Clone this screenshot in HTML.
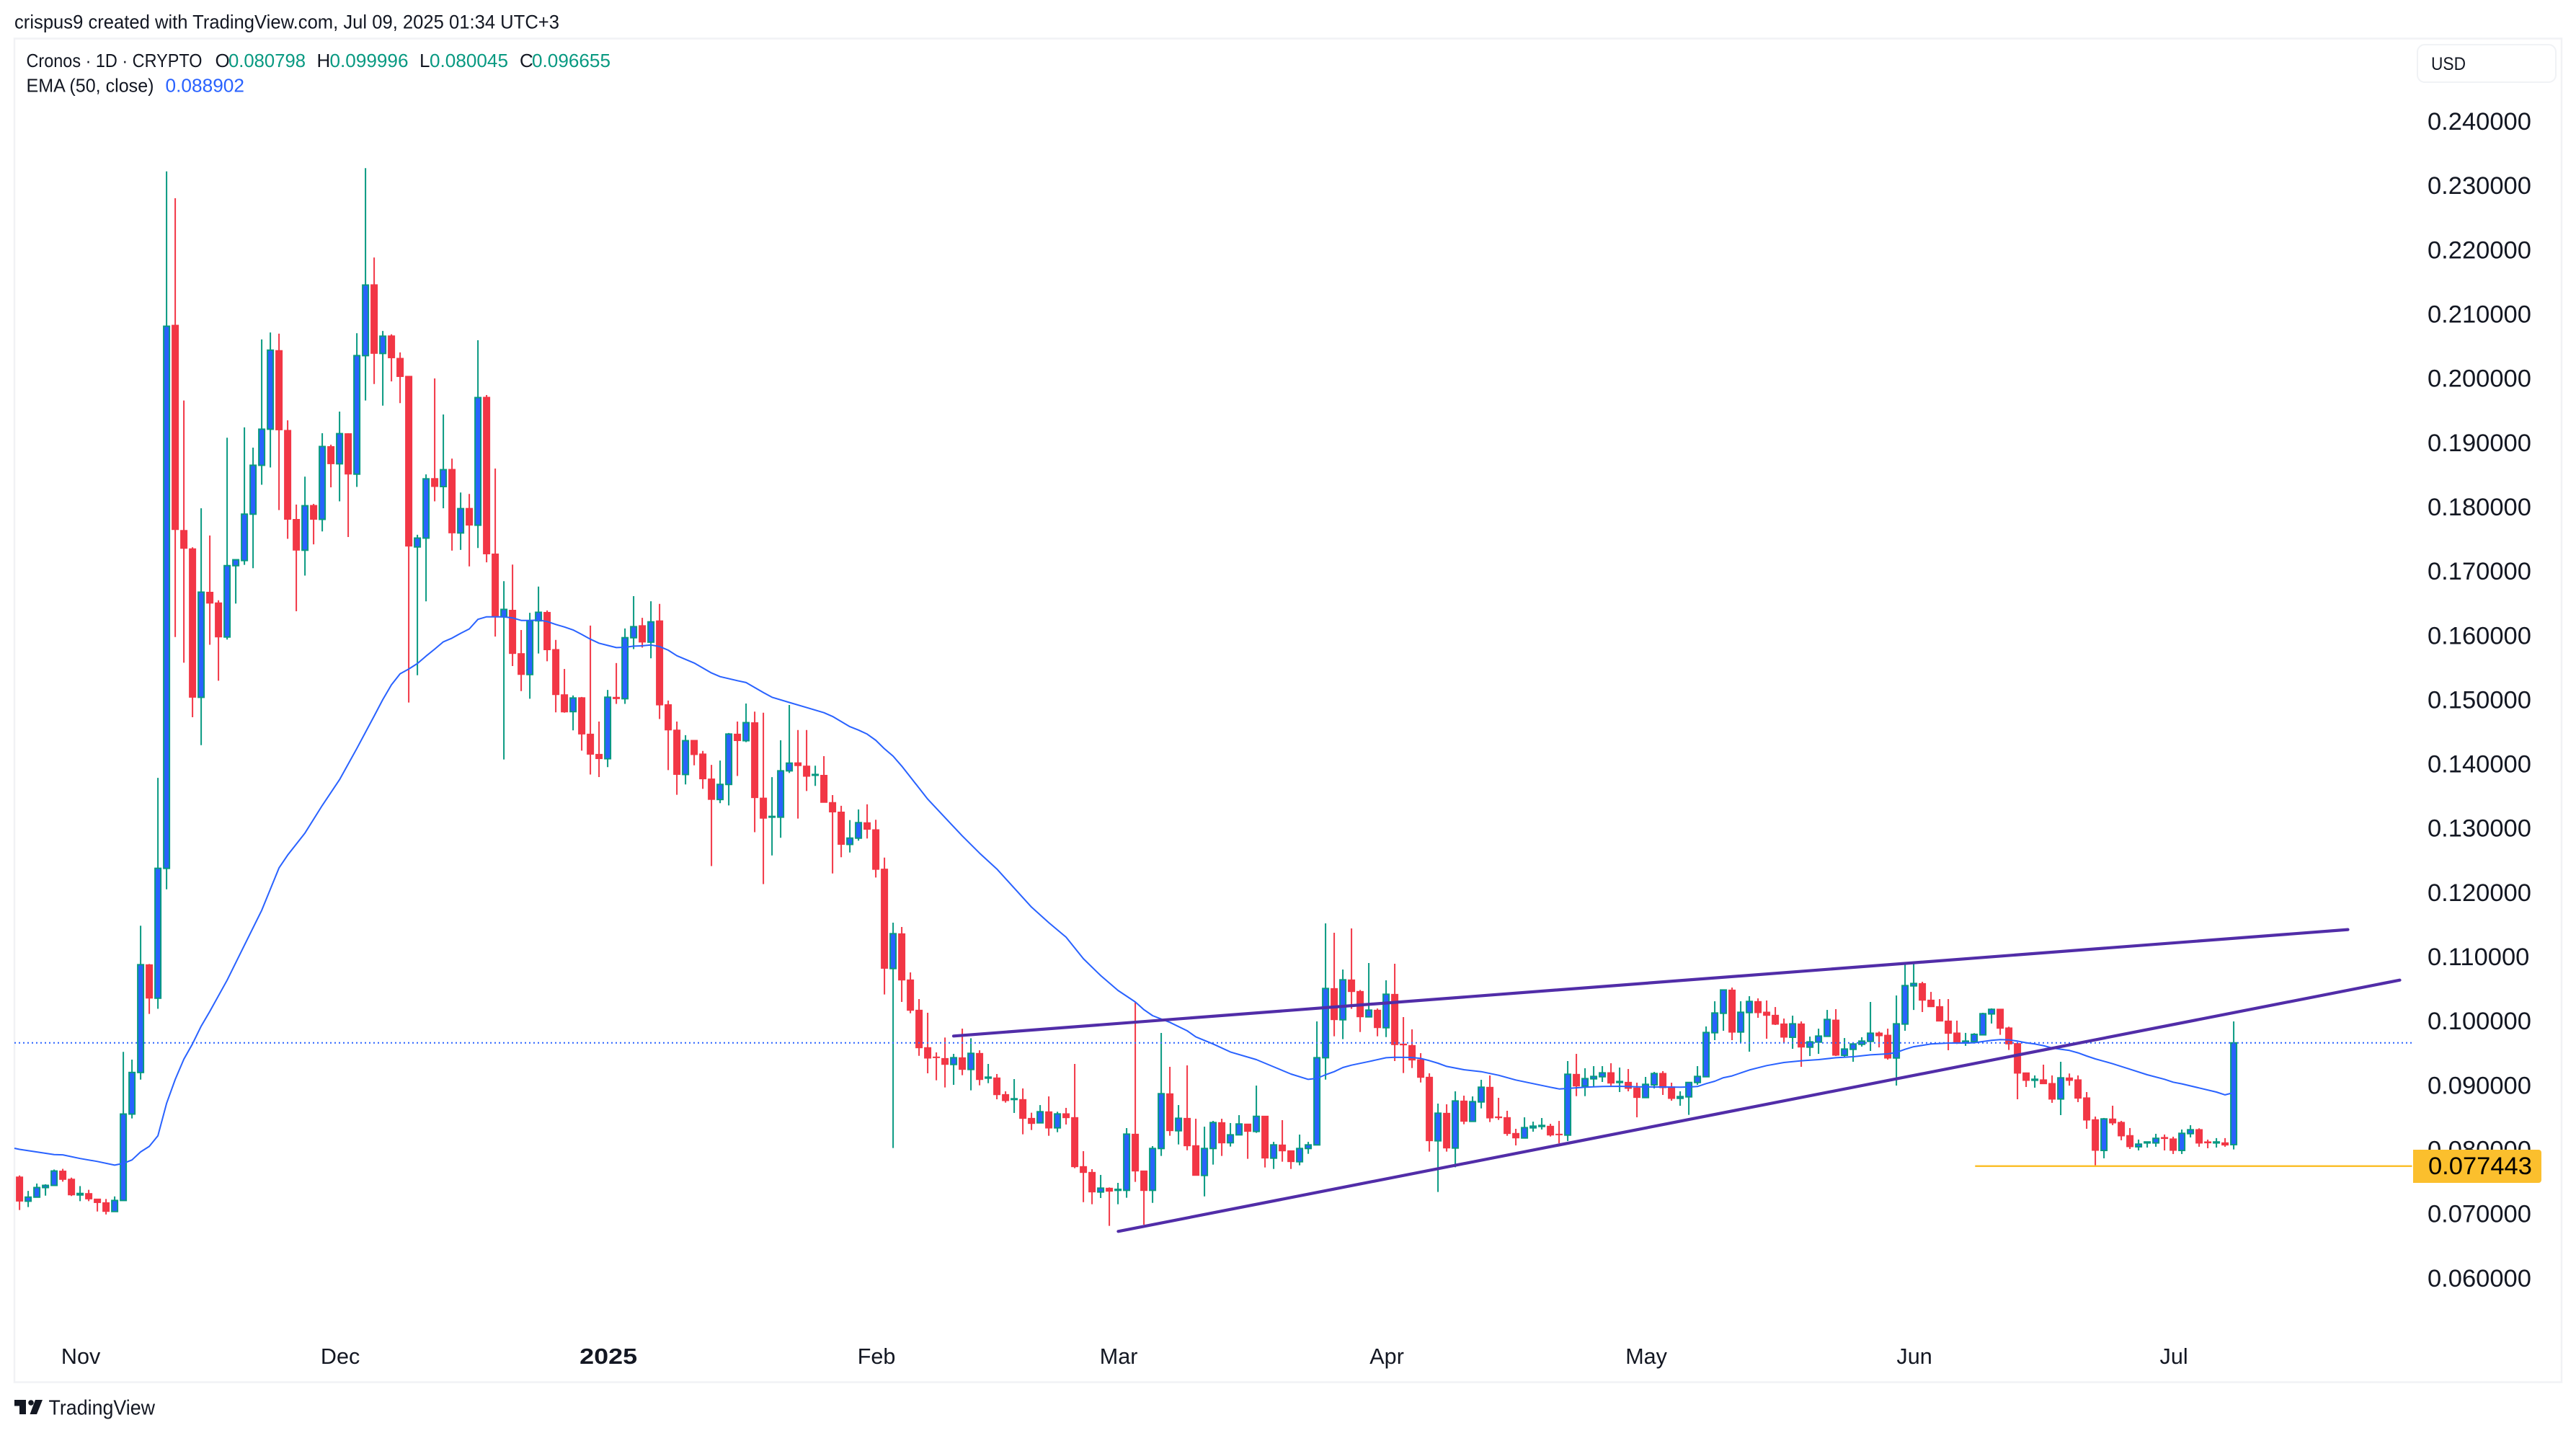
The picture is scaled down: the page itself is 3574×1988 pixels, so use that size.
<!DOCTYPE html>
<html lang="en">
<head>
<meta charset="utf-8">
<title>Cronos 1D chart</title>
<style>
html,body{margin:0;padding:0;background:#fff;width:3574px;height:1988px;overflow:hidden}
svg{display:block}
text{font-family:"Liberation Sans",sans-serif;fill:#131722}
</style>
</head>
<body>
<svg id="chart" xmlns="http://www.w3.org/2000/svg" width="3574" height="1988" viewBox="0 0 3574 1988">
  <rect width="3574" height="1988" fill="#ffffff"/>
  <text x="20" y="39.5" font-size="27" textLength="756" lengthAdjust="spacingAndGlyphs">crispus9 created with TradingView.com, Jul 09, 2025 01:34 UTC+3</text>
  <rect x="20" y="53.5" width="3534" height="1864" fill="none" stroke="#f1f2f5" stroke-width="2.5"/>

  <g id="candles"></g>
  <polyline id="ema-line" fill="none" stroke="#2962ff" stroke-width="2" stroke-linejoin="round"/>
  <line id="last-price-line" stroke="#2962ff" stroke-width="2" stroke-dasharray="2 4"/>
  <line id="trend-upper" stroke="#512da8" stroke-width="4.2" stroke-linecap="round"/>
  <line id="trend-lower" stroke="#512da8" stroke-width="4.2" stroke-linecap="round"/>
  <line id="level-line" stroke="#fbc02d" stroke-width="2.5"/>

  <g id="price-ticks"></g>
  <path d="M3348 1595H3522a4 4 0 0 1 4 4V1637a4 4 0 0 1 -4 4H3348Z" fill="#fbbf2d"/>
  <text id="level-text" x="3369" y="1629" font-size="34.5" style="fill:#000"></text>

  <rect x="3354" y="62" width="192" height="52" rx="10" fill="#fff" stroke="#f0f2f5" stroke-width="2"/>
  <text x="3373" y="97" font-size="25" textLength="48" lengthAdjust="spacingAndGlyphs">USD</text>

  <g id="time-ticks"></g>

  <g font-size="26">
    <text x="36.5" y="93" textLength="244" lengthAdjust="spacingAndGlyphs">Cronos · 1D · CRYPTO</text>
    <text x="298.5" y="93">O</text>
    <text x="317" y="93" textLength="107" lengthAdjust="spacingAndGlyphs" style="fill:#089981">0.080798</text>
    <text x="439.5" y="93">H</text>
    <text x="457.5" y="93" textLength="109" lengthAdjust="spacingAndGlyphs" style="fill:#089981">0.099996</text>
    <text x="582" y="93">L</text>
    <text x="596" y="93" textLength="109" lengthAdjust="spacingAndGlyphs" style="fill:#089981">0.080045</text>
    <text x="721" y="93">C</text>
    <text x="738" y="93" textLength="109" lengthAdjust="spacingAndGlyphs" style="fill:#089981">0.096655</text>
    <text x="36.5" y="127.5" textLength="177" lengthAdjust="spacingAndGlyphs">EMA (50, close)</text>
    <text x="229.5" y="127.5" textLength="109.5" lengthAdjust="spacingAndGlyphs" style="fill:#2962ff">0.088902</text>
  </g>

  <g>
    <path d="M20 1942H36V1962H27V1950.5H20Z" fill="#131722"/>
    <circle cx="43" cy="1946" r="3.8" fill="#131722"/>
    <path d="M49 1942H59L51 1962H41.5Z" fill="#131722"/>
    <text x="67.5" y="1962.5" font-size="29" textLength="147.5" lengthAdjust="spacingAndGlyphs">TradingView</text>
  </g>
</svg>
<script>
// Daily bars from 2024-10-25 to 2025-07-08
const opens = [
.07576,.07198,.07261,.0741,.07444,.07668,.07542,.07295,.07318,.07232,
.07175,.07037,.07209,.08556,.09204,.10884,.10362,.12386,.20853,.17654,
.17368,.15052,.16691,.16525,.15992,.17104,.17184,.17907,.18669,.19231,
.20458,.19214,.17826,.17345,.18044,.17826,.18961,.18692,.19162,.18531,
.20378,.21484,.20412,.20687,.20337,.20057,.17396,.17534,.18463,.18337,
.18606,.17614,.17998,.17735,.1973,.17287,.16307,.1641,.15734,.15407,
.16245,.16377,.15798,.15093,.14829,.15047,.14479,.14164,.14095,.15053,
.1503,.15981,.1617,.15912,.16245,.14938,.14542,.13849,.14382,.1417,
.1378,.13459,.13694,.14479,.14376,.14657,.13482,.13184,.13184,.13906,
.14032,.13981,.13837,.13837,.13413,.13264,.12759,.12857,.13098,.12989,
.12375,.10824,.11367,.10648,.10176,.09592,.09446,.09423,.09329,.09434,
.09251,.09502,.09116,.0912,.08861,.08783,.08783,.0849,.08419,.08592,
.08341,.08562,.08502,.07738,.07648,.07341,.07401,.07367,.07367,.08243,
.0767,.07367,.08019,.08873,.08296,.0849,.08064,.07599,.08019,.08423,
.08109,.08232,.08401,.08285,.08524,.07869,.08075,.07985,.07813,.08019,
.08075,.09434,.10513,.10026,.10648,.10468,.10071,.10176,.09902,.10423,
.09648,.09625,.09404,.09131,.08139,.08569,.08026,.0876,.08442,.08745,
.08974,.08513,.08502,.08255,.08183,.08341,.08363,.08367,.08243,.08228,
.09176,.08992,.09105,.09138,.09202,.09048,.09052,.08963,.08813,.09011,
.09191,.08981,.08801,.08824,.09048,.09138,.09824,.10127,.1049,.09835,
.10138,.10311,.10146,.10097,.09962,.09753,.09962,.09599,.09678,.09768,
.10022,.09472,.09565,.09644,.09689,.0982,.09786,.0943,.09959,.10554,
.10591,.10333,.10232,.10007,.09821,.09663,.09686,.09791,.10117,.10192,
.099,.09656,.09199,.09083,.09091,.09034,.08791,.0912,.09091,.0881,
.08469,.07989,.0848,.08428,.08222,.08046,.08106,.08106,.08192,.0817,
.07989,.08251,.08315,.08124,.08106,.08109,.080798];
const highs = [
.07599,.07358,.07473,.07461,.07691,.07702,.07565,.07433,.07375,.07232,
.07232,.07272,.09525,.09405,.11492,.10895,.13796,.2325,.22831,.19678,
.17391,.17998,.17574,.16565,.19099,.17196,.1926,.18944,.2063,.20739,
.20721,.19369,.18056,.18491,.18067,.19168,.1899,.19506,.19168,.20727,
.23301,.21908,.20762,.2071,.20429,.20057,.17586,.18526,.20022,.1946,
.18772,.18245,.18222,.20618,.19764,.18618,.16863,.17121,.16101,.1637,
.16778,.16406,.15947,.15494,.15081,.15058,.1617,.14674,.15167,.15586,
.16125,.16629,.16291,.16549,.16509,.15001,.14674,.14462,.14382,.14216,
.13998,.14066,.14496,.14674,.14955,.14829,.14812,.13808,.14382,.14932,
.14542,.14542,.13986,.14135,.13528,.13361,.13138,.13304,.13384,.13143,
.12553,.11539,.11472,.10764,.10348,.10135,.09517,.09749,.09494,.09887,
.09738,.0955,.09337,.0918,.0891,.09101,.08955,.08577,.08696,.08831,
.08592,.08652,.09337,.07977,.07697,.07607,.07412,.07483,.08337,.10296,
.07674,.08056,.0982,.09292,.08696,.09314,.08483,.08359,.08449,.08483,
.08416,.08539,.08401,.09,.08524,.08123,.08461,.07989,.08236,.08123,
.1,.11528,.11382,.10809,.11449,.1049,.1091,.10202,.1064,.10899,
.10067,.09876,.09505,.09191,.08719,.08708,.0891,.08843,.08831,.0909,
.09157,.08809,.08607,.08326,.08505,.08438,.08494,.08404,.08449,.09382,
.09494,.0927,.09303,.09303,.09348,.09281,.09258,.09045,.09135,.09213,
.09225,.09045,.0891,.09056,.09303,.09921,.10314,.10498,.10528,.10314,
.10393,.10359,.10326,.10224,.10045,.1009,.1,.09764,.09887,.10179,
.10191,.09741,.09648,.09753,.10303,.09842,.09887,.10404,.10899,.10899,
.10618,.1046,.10348,.10348,.10012,.09821,.09817,.10135,.10203,.10192,
.09918,.09656,.09203,.09158,.09326,.09158,.09371,.09188,.09158,.08899,
.08517,.08495,.08686,.0845,.08338,.08158,.08124,.08248,.08237,.08203,
.08315,.08383,.08334,.08158,.08181,.08181,.099996];
const lows = [
.0706,.07106,.07261,.07284,.07444,.07502,.07278,.07198,.07198,.07037,
.06991,.07037,.07209,.08488,.09092,.10116,.10196,.12059,.15992,.15591,
.14742,.14306,.15871,.1531,.15952,.16513,.17116,.17064,.18365,.18635,
.1797,.17522,.16393,.16949,.17436,.17637,.18325,.18107,.17551,.18331,
.19678,.19936,.19598,.19976,.19638,.14971,.15396,.16548,.18107,.17998,
.17339,.1735,.17092,.17379,.17156,.15998,.14083,.15539,.15149,.15029,
.15735,.15614,.14818,.14812,.14537,.14221,.13849,.13809,.13963,.14949,
.14949,.15804,.15827,.1566,.14714,.13917,.13533,.13694,.13992,.13625,
.12421,.13402,.13367,.13826,.14353,.12949,.1214,.12587,.12863,.13872,
.13161,.13591,.13671,.13413,.12306,.12559,.12633,.12817,.12851,.12243,
.1042,.08026,.10303,.10127,.09464,.09191,.09082,.0897,.09011,.09161,
.08925,.09004,.09037,.08786,.08734,.08573,.0824,.08307,.08419,.08217,
.08273,.08393,.07712,.07183,.0715,.07247,.06813,.0715,.07251,.07498,
.06832,.07172,.07903,.08217,.08082,.07992,.07599,.07273,.07768,.07903,
.08049,.08232,.07858,.08262,.07723,.077,.07813,.077,.07757,.07936,
.08075,.09093,.09768,.09723,.10195,.09835,.10071,.09768,.09756,.09382,
.09195,.09273,.09048,.0797,.07341,.0797,.07726,.08397,.08442,.08644,
.08431,.08464,.08217,.08067,.08183,.08281,.08315,.08206,.08101,.08135,
.08835,.08835,.08989,.09056,.08998,.08899,.0891,.08505,.08813,.08955,
.08854,.08764,.08685,.08543,.09011,.09138,.09708,.09854,.09708,.09674,
.09528,.10056,.0973,.09944,.09663,.09573,.09292,.0946,.09494,.09768,
.0946,.09438,.09371,.09607,.09539,.09595,.09404,.09,.09854,.10179,
.10146,.10224,.1,.0955,.09648,.09619,.09667,.09791,.09967,.09791,
.09555,.08787,.08978,.08967,.09023,.08731,.0854,.08999,.08742,.08326,
.07731,.07866,.08383,.08147,.08012,.07989,.08034,.08046,.07989,.07933,
.07933,.08192,.08046,.08023,.08034,.08046,.080045];
const closes = [
.07198,.07261,.0741,.07444,.07668,.07536,.07295,.07318,.07232,.07175,
.07037,.07209,.08556,.09204,.10884,.10362,.12386,.20836,.17666,.17373,
.15052,.16691,.16519,.15992,.17104,.17196,.17907,.18669,.19231,.20463,
.1922,.17826,.17345,.18038,.17826,.18961,.18692,.19162,.18531,.20378,
.21478,.20412,.20681,.20343,.20051,.17408,.17534,.18457,.18337,.186,
.17614,.17993,.17735,.19724,.17287,.16307,.16422,.15734,.15407,.16244,
.16377,.15792,.15093,.14823,.15041,.14479,.14164,.14095,.15053,.1503,
.15981,.16153,.15912,.16228,.14932,.14542,.13849,.14376,.14158,.1378,
.13459,.13694,.14479,.14376,.14657,.13487,.13166,.13195,.13906,.14026,
.13986,.1382,.13849,.13413,.13264,.12759,.12857,.13098,.12994,.12369,
.10827,.11367,.10644,.10172,.09588,.09427,.09434,.09329,.09434,.09251,
.09502,.09093,.09131,.08857,.08764,.08794,.08487,.08408,.08592,.08337,
.08558,.08498,.07734,.07644,.07341,.07401,.07352,.07382,.08243,.07667,
.07363,.08019,.08873,.08296,.0849,.0806,.07599,.08019,.08423,.08105,
.08232,.08401,.08285,.0852,.07869,.08075,.07981,.07813,.08019,.08075,
.09434,.10513,.10026,.10648,.10464,.10071,.10176,.09902,.10423,.09637,
.09633,.09397,.09127,.08139,.08569,.08026,.0876,.08442,.08749,.08974,
.08494,.08498,.08251,.08183,.08344,.08367,.08378,.08228,.08232,.09176,
.08992,.09108,.09142,.09198,.09037,.09063,.08955,.08813,.09019,.09187,
.08966,.08798,.08828,.09048,.09142,.09827,.10131,.1049,.09831,.10142,
.10311,.10135,.10093,.09955,.09753,.09962,.09599,.09681,.09771,.1003,
.09472,.09569,.09648,.09693,.09816,.09775,.09427,.09962,.10558,.10591,
.10329,.10228,.10004,.09813,.0966,.09693,.09798,.1012,.10188,.09892,
.09648,.09192,.09079,.09098,.09027,.08787,.0912,.09079,.08802,.08461,
.07989,.0848,.08416,.08214,.08046,.08087,.08121,.08177,.08173,.07989,
.08255,.08311,.08102,.08106,.08121,.08072,.096655];

// EMA(50) at these bar numbers
const emaBars = [0,4,5,7,9,11,12,13,14,15,16,17,18,19,20,21,22,24,26,28,30,31,33,35,37,39,41,42,43,44,45,46,47,48,49,50,51,52,53,54,55,56,57,58,59,60,61,62,63,64,65,66,67,68,69,70,71,72,73,74,75,76,78,80,81,83,84,86,87,89,91,93,94,96,97,98,99,100,101,102,103,105,107,109,111,113,117,119,121,123,125,127,129,130,131,133,135,136,138,140,143,145,147,149,150,151,152,153,154,156,158,159,161,162,163,164,165,167,169,171,173,175,177,178,179,181,183,185,187,190,192,193,194,195,196,197,198,200,202,204,206,208,210,212,214,216,217,218,219,221,223,225,226,227,228,229,230,231,232,233,234,235,236,237,238,239,240,241,242,244,246,248,249,250,252,254,255,256];
const emaValues = [.08006,.07925,.0792,.07863,.07817,.07759,.07788,.0784,.07966,.08052,.08218,.08723,.09095,.09411,.09651,.09926,.10156,.10643,.11188,.11732,.12392,.12592,.12936,.13366,.13768,.14255,.1476,.15017,.15247,.15418,.15493,.15579,.15694,.15803,.15917,.15974,.16049,.16118,.16267,.16307,.16307,.16307,.1629,.1625,.1625,.16256,.16234,.16188,.16148,.16102,.16033,.15958,.15895,.15861,.15827,.15832,.15849,.15855,.15867,.15844,.15786,.157,.15586,.15431,.15374,.15311,.15282,.15127,.15053,.14972,.14892,.14812,.14754,.14594,.14542,.14479,.14382,.1425,.14135,.1398,.13809,.13465,.13178,.12891,.12622,.12375,.11782,.11539,.11314,.10977,.10715,.10483,.10303,.10183,.1009,.09985,.09854,.0976,.09648,.09524,.09404,.09292,.0918,.09097,.09112,.09168,.09217,.09281,.09318,.09374,.09434,.09442,.09438,.09423,.09389,.09348,.09299,.09247,.09217,.09161,.09086,.0903,.08974,.08947,.08955,.08974,.08985,.08989,.08981,.08977,.08974,.08977,.08985,.0903,.09067,.09123,.0915,.09243,.09311,.09359,.09386,.09404,.09434,.09449,.09479,.09494,.09516,.09565,.09606,.09648,.09663,.09663,.09667,.09686,.09705,.09716,.09712,.09693,.09667,.09648,.09622,.09585,.09566,.09547,.0951,.09461,.09416,.09379,.09341,.09255,.09169,.09098,.09053,.09027,.08963,.08899,.08855,.08890];

// Hand-drawn chart annotations, as bar number and price
const upperTrendBars = [107.99,269.2];
const upperTrendPrices = [.09772,.11431];
const lowerTrendBars = [127.03,275.2];
const lowerTrendPrices = [.06727,.10644];
const levelStartBar = 226.1;
const levelPrice = .077443;
const lastPrice = .096655;

// Axis labels
const priceTickValues = [.24,.23,.22,.21,.2,.19,.18,.17,.16,.15,.14,.13,.12,.11,.1,.09,.08,.07,.06];
const timeLabels = ['Nov','Dec','2025','Feb','Mar','Apr','May','Jun','Jul'];
const timeLabelBars = [7,37,68,99,127,158,188,219,249];

const SVGNS = 'http://www.w3.org/2000/svg';
const plotLeft = 20, plotRight = 3346.5;
function xScale(bar){ return 27.1 + 12 * bar; }
function yScale(price){ return 171 + (0.24 - price) * 8900; }
function tickBaseline(price){ return 1695.7 - (price - 0.07) * 8916; }
function make(tag, parent){
  const el = document.createElementNS(SVGNS, tag);
  parent.appendChild(el);
  return el;
}

const candlesGroup = document.getElementById('candles');
for (let i = 0; i < opens.length; i++) {
  const up = closes[i] >= opens[i];
  const cx = xScale(i);
  const g = make('g', candlesGroup);
  
  
  const wick = make('line', g);
  
  
  wick.setAttribute('x1', cx);
  wick.setAttribute('x2', cx);
  wick.setAttribute('y1', yScale(highs[i]));
  wick.setAttribute('y2', yScale(lows[i]));
  wick.setAttribute('stroke', up ? '#089981' : '#f23645');
  wick.setAttribute('stroke-width', '2');
  const top = yScale(Math.max(opens[i], closes[i]));
  const bottom = yScale(Math.min(opens[i], closes[i]));
  const body = make('rect', g);
  
  
  if (up) {
    body.setAttribute('x', cx - 4);
    body.setAttribute('width', 8);
    body.setAttribute('y', top);
    body.setAttribute('height', Math.max(bottom - top, 0.5));
    body.setAttribute('fill', '#2962ff');
    body.setAttribute('stroke', '#089981');
    body.setAttribute('stroke-width', '2');
  } else {
    body.setAttribute('x', cx - 5);
    body.setAttribute('width', 10);
    body.setAttribute('y', top - 0.5);
    body.setAttribute('height', Math.max(bottom - top + 1, 2));
    body.setAttribute('fill', '#f23645');
  }
}

const emaPoints = emaBars.map((b, k) => xScale(b).toFixed(1) + ',' + yScale(emaValues[k]).toFixed(1));
emaPoints.unshift(plotLeft + ',' + yScale(emaValues[0] + 0.00016).toFixed(1));
document.getElementById('ema-line').setAttribute('points', emaPoints.join(' '));

const lastLine = document.getElementById('last-price-line');
lastLine.setAttribute('x1', plotLeft);
lastLine.setAttribute('x2', plotRight);
lastLine.setAttribute('y1', yScale(lastPrice));
lastLine.setAttribute('y2', yScale(lastPrice));

function placeTrend(id, bars, prices){
  const l = document.getElementById(id);
  l.setAttribute('x1', xScale(bars[0]));
  l.setAttribute('y1', yScale(prices[0]));
  l.setAttribute('x2', xScale(bars[1]));
  l.setAttribute('y2', yScale(prices[1]));
}
placeTrend('trend-upper', upperTrendBars, upperTrendPrices);
placeTrend('trend-lower', lowerTrendBars, lowerTrendPrices);

const level = document.getElementById('level-line');
level.setAttribute('x1', xScale(levelStartBar));
level.setAttribute('x2', plotRight);
level.setAttribute('y1', yScale(levelPrice));
level.setAttribute('y2', yScale(levelPrice));
document.getElementById('level-text').textContent = levelPrice.toFixed(6);

const priceGroup = document.getElementById('price-ticks');
priceTickValues.forEach(function(v){
  const t = make('text', priceGroup);
  
  
  t.setAttribute('x', 3368);
  t.setAttribute('y', tickBaseline(v));
  t.setAttribute('font-size', '34.5');
  t.textContent = v.toFixed(6);
});

const timeGroup = document.getElementById('time-ticks');
timeLabels.forEach(function(label, k){
  const t = make('text', timeGroup);
  
  
  t.setAttribute('x', xScale(timeLabelBars[k]) + 1);
  t.setAttribute('y', 1892);
  t.setAttribute('text-anchor', 'middle');
  t.setAttribute('font-size', '30.6');
  if (label === '2025') {
    t.setAttribute('font-weight', 'bold');
    t.setAttribute('textLength', '80');
    t.setAttribute('lengthAdjust', 'spacingAndGlyphs');
  }
  t.textContent = label;
});
</script>
</body>
</html>
